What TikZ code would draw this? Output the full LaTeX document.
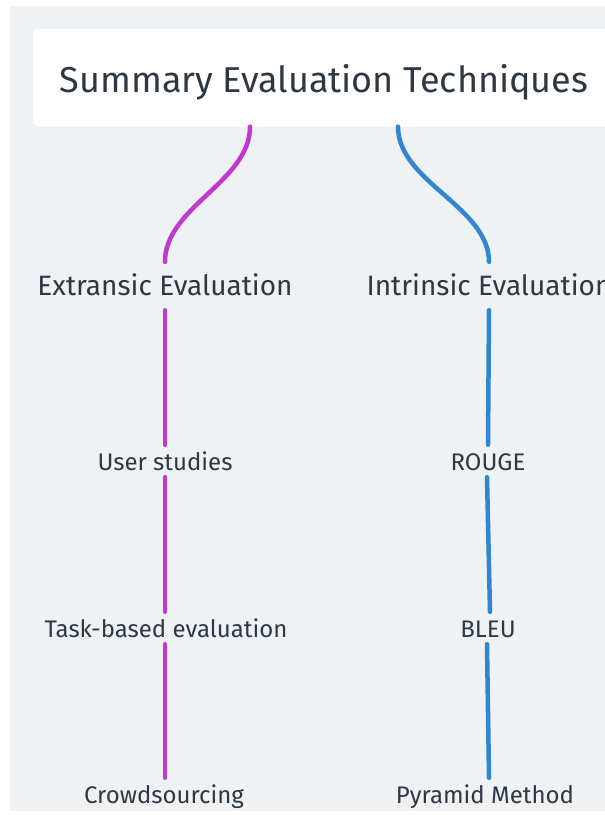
\documentclass[tikz,border=0pt]{standalone}
\usepackage{fontspec}
\setmainfont{Fira Sans}
\definecolor{bgc}{HTML}{EEF2F5}
\definecolor{txt}{HTML}{2E3843}
\definecolor{mag}{HTML}{C038CF}
\definecolor{blu}{HTML}{2F86D3}
\tikzset{
  rootbox/.style={fill=white, rounded corners=6pt, inner sep=0pt, minimum width=582pt, minimum height=98pt, text height=29pt, text depth=0pt, text=txt, font=\fontsize{36}{40}\selectfont, anchor=base},
  catnode/.style={inner sep=0pt, text height=33pt, text depth=15pt, text=txt, font=\fontsize{28}{32}\selectfont, anchor=base},
  leafnode/.style={inner sep=0pt, text height=25pt, text depth=7pt, text=txt, font=\fontsize{24}{28}\selectfont, anchor=base},
  mline/.style={draw=mag, line width=4.5pt, line cap=round},
  bline/.style={draw=blu, line width=4.5pt, line cap=round},
}
\begin{document}
\begin{tikzpicture}[x=1pt,y=-1pt]
\useasboundingbox (0,0) rectangle (605,815);
\fill[white] (0,0) rectangle (605,815);
\fill[bgc] (10,6) rectangle (605,811);
\begin{scope}
\clip (0,0) rectangle (605,815);
\node[rootbox] (root) at (324,92) {Summary Evaluation Techniques};
\node[catnode] (int) at (489,295) {Intrinsic Evaluation};
\end{scope}
\node[catnode] (ext) at (165,295) {Extransic Evaluation};
\node[leafnode] (us) at (165,470) {User studies};
\node[leafnode] (tb) at (166,637) {Task-based evaluation};
\node[leafnode] (cs) at (164,803) {Crowdsourcing};
\node[leafnode] (rg) at (488,470) {ROUGE};
\node[leafnode] (bl) at (488,637) {BLEU};
\node[leafnode] (pm) at (485,803) {Pyramid Method};
\draw[mline] ([xshift=-74pt]root.south) .. controls ([xshift=-74pt,yshift=-55pt]root.south) and ([yshift=55pt]ext.north) .. (ext.north);
\draw[bline] ([xshift=74pt]root.south) .. controls ([xshift=74pt,yshift=-55pt]root.south) and ([yshift=55pt]int.north) .. (int.north);
\draw[mline] (ext.south) -- (us.north);
\draw[mline] (us.south) -- (us.south |- tb.north);
\draw[mline] (us.south |- tb.south) -- (us.south |- cs.north);
\draw[bline] (int.south) -- (rg.north);
\draw[bline] ([xshift=-1pt]rg.south) -- ([xshift=2pt]bl.north);
\draw[bline] ([xshift=-1pt]bl.south) -- ([xshift=4pt]pm.north);
\end{tikzpicture}
\end{document}
